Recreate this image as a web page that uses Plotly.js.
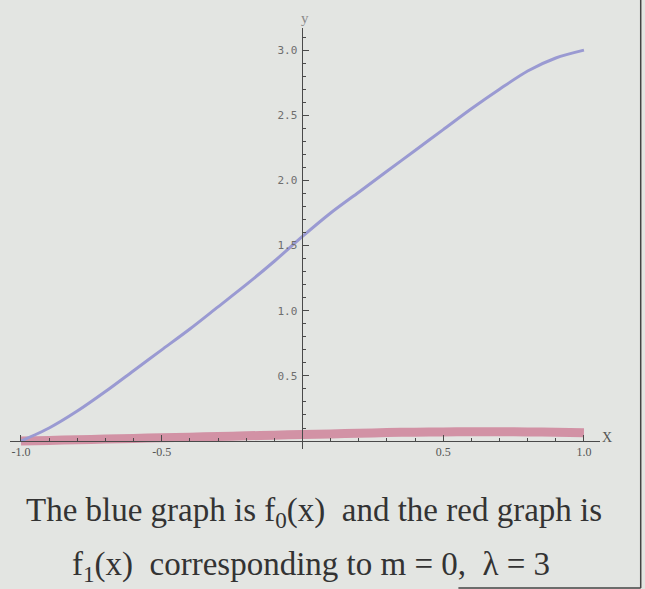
<!DOCTYPE html>
<html>
<head>
<meta charset="utf-8">
<script src="https://cdn.plot.ly/plotly-3.0.1.min.js"></script>
<style>
html,body{margin:0;padding:0;background:#e3e5e2;}
#chart{width:645px;height:589px;}
</style>
</head>
<body>
<div id="chart"></div>
<script>
// Data
const xValues = [-1, -0.9, -0.8, -0.7, -0.6, -0.5, -0.4, -0.3, -0.2, -0.1, 0, 0.1, 0.2, 0.3, 0.4, 0.5, 0.6, 0.7, 0.8, 0.9, 1.0];
const blueF0 = [0, 0.1, 0.23, 0.38, 0.54, 0.7, 0.86, 1.03, 1.2, 1.38, 1.57, 1.75, 1.91, 2.07, 2.23, 2.39, 2.55, 2.7, 2.84, 2.94, 3.0];
const redF1 = [0, 0.005, 0.01, 0.015, 0.02, 0.025, 0.03, 0.035, 0.04, 0.045, 0.05, 0.055, 0.06, 0.065, 0.068, 0.07, 0.072, 0.072, 0.07, 0.067, 0.063];
const xTickVals = [-1, -0.5, 0.5, 1];
const xTickText = ["-1.0", "-0.5", "0.5", "1.0"];
const yTickVals = [0.5, 1, 1.5, 2, 2.5, 3];
const yTickText = ["0.5", "1.0", "1.5", "2.0", "2.5", "3.0"];

const xRange = [-1.039, 1.057];
const yRange = [-0.061, 3.17];
const yAxisPos = (0 - xRange[0]) / (xRange[1] - xRange[0]);
const xAxisPos = (0 - yRange[0]) / (yRange[1] - yRange[0]);

const traces = [
  {x: xValues, y: redF1, mode: 'lines', line: {color: 'rgba(205,125,150,0.8)', width: 9, shape: 'spline', smoothing: 0.6}, hoverinfo: 'skip'},
  {x: xValues, y: blueF0, mode: 'lines', line: {color: '#9a9ad2', width: 3, shape: 'spline', smoothing: 0.8}, hoverinfo: 'skip'}
];

const tickFont = {family: 'DejaVu Sans Mono, monospace', size: 11, color: '#6e6e6e'};

const layout = {
  width: 645, height: 589,
  margin: {l: 10, r: 45, t: 28, b: 140},
  paper_bgcolor: '#e3e5e2',
  plot_bgcolor: '#e3e5e2',
  showlegend: false,
  xaxis: {
    range: xRange, anchor: 'free', position: xAxisPos,
    showgrid: false, zeroline: false,
    showline: true, linecolor: '#4a4a4a', linewidth: 1,
    tickmode: 'array', tickvals: xTickVals, ticktext: xTickText,
    ticks: 'inside', ticklen: 6, tickcolor: '#4a4a4a',
    minor: {dtick: 0.1, tick0: 0, ticks: 'inside', ticklen: 3, tickcolor: '#4a4a4a'},
    tickfont: {family: 'Liberation Serif, serif', size: 12, color: '#555'}
  },
  yaxis: {
    range: yRange, anchor: 'free', position: yAxisPos,
    showgrid: false, zeroline: false,
    showline: true, linecolor: '#4a4a4a', linewidth: 1,
    tickmode: 'array', tickvals: yTickVals, ticktext: yTickText,
    ticks: 'inside', ticklen: 6, tickcolor: '#4a4a4a', ticklabelstandoff: 3,
    minor: {dtick: 0.1, tick0: 0, ticks: 'inside', ticklen: 3, tickcolor: '#4a4a4a'},
    tickfont: tickFont
  },
  annotations: [
    {xref: 'x', yref: 'paper', x: 0.01, y: 1.0, text: 'y', showarrow: false, xanchor: 'center', yanchor: 'bottom',
     font: {family: 'Liberation Serif, serif', size: 15, color: '#8a8a8a'}},
    {xref: 'paper', yref: 'y', x: 1.0, y: 0.03, text: 'X', showarrow: false, xanchor: 'left', yanchor: 'middle', xshift: 0,
     font: {family: 'Liberation Serif, serif', size: 14, color: '#555'}},
    {xref: 'paper', yref: 'paper', x: 0.515, y: -0.152, text: 'The blue graph is f<sub>0</sub>(x)  and the red graph is', showarrow: false,
     xanchor: 'center', yanchor: 'middle', font: {family: 'Liberation Serif, serif', size: 33, color: '#333'}},
    {xref: 'paper', yref: 'paper', x: 0.51, y: -0.28, text: 'f<sub>1</sub>(x)  corresponding to m = 0,  λ = 3', showarrow: false,
     xanchor: 'center', yanchor: 'middle', font: {family: 'Liberation Serif, serif', size: 33, color: '#333'}}
  ],
  shapes: [
    {type: 'line', xref: 'paper', yref: 'paper', x0: 1.069, x1: 1.069, y0: -0.33, y1: 1.07, line: {color: '#444', width: 1.5}},
    {type: 'line', xref: 'paper', yref: 'paper', x0: 0.76, x1: 1.069, y0: -0.33, y1: -0.33, line: {color: '#444', width: 1.5}}
  ]
};

Plotly.newPlot('chart', traces, layout, {staticPlot: true, displayModeBar: false});
</script>
</body>
</html>
